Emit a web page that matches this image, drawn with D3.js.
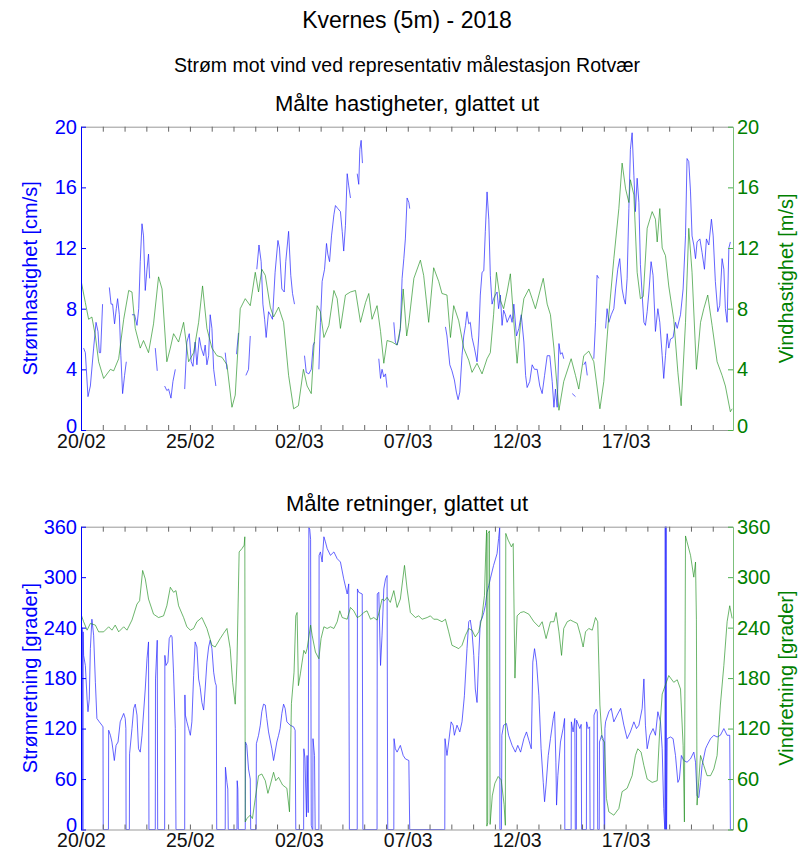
<!DOCTYPE html>
<html>
<head>
<meta charset="utf-8">
<script src="https://cdn.jsdelivr.net/npm/d3@7"></script>
<style>
  body { margin: 0; background: #fff; }
  svg { font-family: "Liberation Sans", Arial, sans-serif; }
</style>
</head>
<body>
<svg id="chart" width="800" height="855"></svg>
<script>
// time in days after 20/02/2018 00:00
// null breaks the line (no data)
var curSpeed = [
  [0.12,5.4],[0.20,5.1],[0.32,2.2],[0.43,2.9],[0.58,5.4],[0.69,7.1],[0.78,6.5],[0.84,5.1],[0.90,5.1],[0.99,8.3],[1.1,null],
  [1.30,9.4],[1.38,8.3],[1.45,8.3],[1.54,7.0],[1.62,8.0],[1.68,8.66],[1.76,7.6],[1.83,4.9],[1.91,2.4],[2.00,3.6],[2.08,4.5],[2.2,null],
  [2.34,7.6],[2.46,7.6],[2.57,6.9],[2.65,8.0],[2.72,11.1],[2.80,13.6],[2.87,12.8],[2.95,9.2],[3.03,10.6],[3.10,11.6],[3.15,10.0],[3.3,null],
  [3.41,5.4],[3.50,3.9],[3.6,null],
  [3.84,2.9],[3.94,2.6],[4.02,2.7],[4.13,2.1],[4.22,3.2],[4.33,4.0],[4.5,null],
  [4.76,2.7],[4.86,5.8],[4.97,6.35],[5.06,4.5],[5.14,4.2],[5.24,5.8],[5.32,4.3],[5.43,6.1],[5.52,5.4],[5.63,4.9],[5.70,5.6],[5.78,4.3],[5.86,4.9],[5.93,7.6],[6.01,6.7],[6.09,4.0],[6.19,2.9],[6.4,null],
  [6.62,5.1],[6.70,4.0],[6.9,null],
  [7.14,5.0],[7.23,6.4],[7.4,null],
  [7.57,3.6],[7.69,4.0],[7.77,6.2],[7.9,null],
  [8.07,10.6],[8.17,12.2],[8.27,11.1],[8.35,8.3],[8.43,7.3],[8.50,6.1],[8.61,7.8],[8.69,7.6],[8.79,7.3],[8.91,10.4],[9.04,12.5],[9.11,12.0],[9.22,9.3],[9.33,9.1],[9.40,11.1],[9.53,13.1],[9.63,10.2],[9.71,9.0],[9.80,8.3],[10.0,null],
  [10.26,4.9],[10.34,3.8],[10.46,3.7],[10.57,4.0],[10.66,5.6],[10.72,5.8],[10.8,null],
  [10.92,4.0],[10.99,7.1],[11.07,9.8],[11.18,10.6],[11.27,12.3],[11.33,11.6],[11.41,11.1],[11.50,12.8],[11.61,14.2],[11.68,14.8],[11.79,14.6],[11.91,14.4],[11.99,13.1],[12.06,11.8],[12.14,13.5],[12.22,16.9],[12.29,16.1],[12.37,15.3],[12.5,null],
  [12.68,16.9],[12.75,16.2],[12.80,18.5],[12.86,19.1],[12.92,17.6],[13.2,null],
  [13.67,4.7],[13.75,3.4],[13.82,4.0],[13.90,3.5],[13.98,3.7],[14.05,2.8],[14.2,null],
  [14.36,7.1],[14.43,5.8],[14.51,5.6],[14.59,6.0],[14.66,6.7],[14.74,10.0],[14.82,11.3],[14.89,12.6],[14.97,15.3],[15.05,15.0],[15.09,14.6],[15.3,null],
  [16.73,6.8],[16.80,6.2],[16.93,4.3],[17.03,3.9],[17.14,3.3],[17.23,2.5],[17.31,2.0],[17.39,2.5],[17.49,4.9],[17.57,6.2],[17.65,6.9],[17.72,7.8],[17.80,7.0],[17.87,7.1],[17.95,6.1],[18.06,5.4],[18.18,4.5],[18.26,6.2],[18.33,8.9],[18.41,10.4],[18.49,10.5],[18.56,13.1],[18.64,15.7],[18.72,13.9],[18.79,10.2],[18.87,8.3],[18.94,8.66],[19.02,8.9],[19.10,9.1],[19.17,8.0],[19.25,8.9],[19.33,6.9],[19.40,7.9],[19.48,7.6],[19.56,7.1],[19.71,7.6],[19.79,7.1],[19.87,8.3],[19.99,6.2],[20.10,6.7],[20.21,7.6],[20.33,5.8],[20.41,3.6],[20.48,2.8],[20.60,3.2],[20.71,4.3],[20.82,4.0],[20.94,4.0],[21.06,2.9],[21.17,2.4],[21.28,3.6],[21.40,4.9],[21.52,4.9],[21.63,3.2],[21.71,1.5],[21.78,2.7],[21.86,1.5],[21.94,5.7],[22.01,5.0],[22.09,5.1],[22.16,4.7],[22.3,null],
  [22.55,2.4],[22.70,2.2],[22.8,null],
  [23.08,4.3],[23.16,4.5],[23.24,3.6],[23.4,null],
  [23.54,4.7],[23.62,7.1],[23.69,10.2],[23.77,10.0],[23.9,null],
  [24.08,6.7],[24.15,8.0],[24.23,7.1],[24.34,7.6],[24.46,8.0],[24.54,9.3],[24.64,10.6],[24.73,11.3],[24.84,9.3],[24.92,8.66],[24.99,8.3],[25.07,10.0],[25.15,14.6],[25.22,18.5],[25.30,19.6],[25.38,16.8],[25.45,14.4],[25.53,16.6],[25.61,15.0],[25.68,10.9],[25.76,8.9],[25.84,7.1],[25.91,6.9],[25.99,7.8],[26.07,9.1],[26.17,11.1],[26.26,10.2],[26.37,6.5],[26.48,8.0],[26.57,7.1],[26.68,4.9],[26.75,3.4],[26.83,4.9],[26.91,6.35],[26.98,5.4],[27.06,6.0],[27.18,6.1],[27.29,7.1],[27.37,6.7],[27.52,7.6],[27.64,9.3],[27.75,12.8],[27.82,17.9],[27.90,17.7],[27.98,15.7],[28.05,12.8],[28.13,12.2],[28.21,11.3],[28.28,12.4],[28.41,12.6],[28.51,11.7],[28.62,10.6],[28.71,12.6],[28.82,12.2],[28.94,13.9],[29.02,12.8],[29.12,9.8],[29.23,7.8],[29.32,8.2],[29.43,11.3],[29.51,10.6],[29.58,8.0],[29.66,7.1],[29.74,12.0],[29.81,12.4]
];

var windSpeed = [
  [0.00,9.87],[0.20,8.4],[0.35,7.3],[0.50,7.45],[0.66,6.2],[0.81,4.5],[1.04,3.4],[1.35,4.0],[1.50,3.9],[1.73,4.7],[1.96,7.3],[2.19,9.2],[2.34,9.1],[2.49,6.7],[2.72,5.4],[2.87,5.9],[3.10,5.1],[3.33,7.0],[3.56,10.1],[3.72,9.3],[3.94,4.5],[4.10,5.4],[4.25,6.35],[4.48,5.8],[4.71,7.1],[4.94,4.5],[5.17,5.1],[5.40,7.1],[5.58,9.5],[5.78,6.7],[6.01,5.4],[6.24,4.9],[6.47,4.8],[6.70,4.3],[6.93,1.5],[7.08,2.3],[7.31,8.0],[7.54,8.66],[7.77,8.2],[8.00,10.4],[8.15,9.1],[8.30,10.6],[8.46,10.2],[8.69,8.1],[8.84,7.45],[9.07,8.1],[9.30,7.1],[9.53,3.6],[9.76,1.4],[9.98,1.6],[10.21,4.0],[10.38,2.9],[10.57,2.4],[10.69,5.4],[10.84,8.2],[10.99,7.8],[11.15,6.1],[11.38,6.9],[11.61,9.2],[11.76,8.66],[11.91,6.7],[12.14,8.9],[12.37,9.1],[12.60,9.2],[12.83,7.1],[13.06,8.4],[13.21,9.0],[13.36,7.3],[13.59,8.2],[13.75,6.5],[13.90,4.4],[14.05,5.9],[14.28,5.8],[14.51,5.6],[14.66,6.7],[14.79,9.3],[14.95,6.2],[15.05,7.1],[15.28,10.0],[15.58,11.2],[15.73,10.2],[15.96,7.1],[16.19,10.7],[16.42,9.8],[16.57,9.0],[16.80,8.9],[16.96,6.1],[17.11,8.2],[17.34,7.2],[17.57,5.4],[17.80,4.6],[17.95,3.8],[18.18,4.4],[18.41,3.7],[18.64,4.7],[18.79,5.1],[18.94,7.6],[19.07,10.4],[19.25,8.55],[19.40,8.0],[19.56,9.1],[19.71,10.3],[19.86,7.3],[20.02,4.4],[20.18,7.1],[20.33,8.66],[20.56,9.3],[20.71,8.66],[20.86,8.0],[21.02,8.9],[21.22,10.0],[21.40,8.3],[21.55,7.6],[21.71,5.4],[21.94,1.3],[22.16,3.2],[22.50,4.7],[22.70,3.6],[22.85,2.7],[23.08,4.9],[23.31,5.2],[23.54,4.5],[23.82,1.4],[24.00,3.2],[24.23,7.6],[24.46,11.3],[24.69,14.6],[24.84,17.6],[25.00,15.9],[25.15,15.0],[25.22,16.5],[25.38,15.5],[25.53,10.4],[25.68,8.66],[25.81,8.8],[25.99,13.3],[26.22,14.4],[26.37,13.9],[26.45,12.4],[26.57,14.6],[26.68,12.0],[26.83,11.5],[26.98,9.5],[27.21,7.3],[27.40,3.8],[27.55,1.6],[27.75,7.1],[27.90,13.3],[28.05,10.4],[28.25,4.0],[28.44,7.1],[28.59,8.0],[28.77,8.9],[28.97,6.9],[29.20,4.5],[29.43,3.6],[29.58,2.9],[29.81,1.2],[29.89,1.4]
];

var curDir = [
  [0.00,243],[0.07,238],[0.08,0],[0.09,0],[0.10,235],[0.12,207],[0.20,195],[0.28,155],[0.32,140],[0.38,155],[0.43,215],[0.50,250],[0.58,231],[0.66,175],[0.73,132],[0.84,128],[0.96,124],[1.01,122],[1.02,0],[1.26,0],[1.27,118],[1.35,112],[1.42,104],[1.53,82],[1.61,100],[1.70,104],[1.80,128],[1.96,138],[2.03,132],[2.06,120],[2.07,0],[2.22,0],[2.23,90],[2.34,120],[2.42,144],[2.49,149],[2.57,136],[2.64,96],[2.72,92],[2.80,112],[2.95,167],[3.03,203],[3.10,223],[3.12,0],[3.41,0],[3.42,179],[3.50,225],[3.52,0],[3.84,0],[3.85,207],[3.90,195],[3.99,199],[4.05,227],[4.13,231],[4.18,229],[4.25,185],[4.33,120],[4.36,0],[4.76,0],[4.77,160],[4.79,136],[4.86,128],[4.94,120],[5.02,112],[5.09,128],[5.17,183],[5.24,223],[5.32,217],[5.40,179],[5.47,169],[5.55,151],[5.63,142],[5.70,167],[5.78,199],[5.86,217],[5.93,225],[6.01,215],[6.09,187],[6.16,175],[6.21,171],[6.23,0],[6.62,0],[6.63,74],[6.70,56],[6.74,48],[6.76,0],[7.16,0],[7.17,58],[7.20,48],[7.22,0],[7.54,0],[7.55,104],[7.61,100],[7.69,72],[7.77,60],[7.79,0],[8.04,0],[8.05,102],[8.15,112],[8.23,124],[8.30,140],[8.38,149],[8.46,148],[8.53,132],[8.61,116],[8.76,96],[8.84,82],[8.91,92],[8.99,104],[9.07,112],[9.14,120],[9.22,138],[9.30,149],[9.37,144],[9.45,128],[9.60,124],[9.76,122],[9.83,118],[9.86,0],
  [10.22,0],[10.23,96],[10.28,85],[10.35,15],[10.38,88],[10.43,20],[10.46,359],[10.50,357],[10.54,345],[10.57,5],[10.62,0],[10.64,0],[10.65,108],[10.72,88],[10.75,0],[10.92,0],[10.93,326],[10.99,330],[11.07,318],[11.15,348],[11.22,342],[11.30,334],[11.45,326],[11.61,330],[11.76,322],[11.91,318],[12.06,298],[12.22,280],[12.29,292],[12.32,0],[12.68,0],[12.69,286],[12.75,282],[12.91,280],[12.94,0],[13.59,0],[13.60,280],[13.67,282],[13.75,195],[13.82,231],[13.90,286],[13.98,298],[14.05,302],[14.08,0],[14.36,0],[14.37,108],[14.43,96],[14.51,92],[14.66,100],[14.79,88],[14.89,84],[15.05,82],[15.09,0],[16.70,0],[16.71,108],[16.80,88],[16.88,104],[16.99,128],[17.08,124],[17.14,112],[17.26,124],[17.39,116],[17.49,128],[17.60,159],[17.72,215],[17.80,247],[17.87,249],[17.95,235],[18.03,207],[18.10,167],[18.18,151],[18.26,207],[18.33,247],[18.41,251],[18.49,258],[18.56,266],[18.64,282],[18.72,290],[18.79,298],[18.94,314],[19.10,328],[19.17,346],[19.22,359],[19.23,0],[19.30,0],[19.32,112],[19.40,124],[19.53,126],[19.63,112],[19.79,100],[19.94,92],
  [20.05,100],[20.18,92],[20.33,108],[20.45,116],[20.56,106],[20.67,96],[20.74,199],[20.82,215],[20.91,199],[21.02,159],[21.12,96],[21.22,56],[21.28,33],[21.35,53],[21.45,88],[21.55,108],[21.68,132],[21.74,140],[21.80,80],[21.83,29],[21.89,64],[22.01,104],[22.13,120],[22.20,132],[22.21,0],[22.50,0],[22.51,128],[22.59,116],[22.67,132],[22.69,0],[22.74,0],[22.75,130],[22.90,120],[22.96,125],[22.98,0],[23.20,0],[23.21,128],[23.28,120],[23.35,122],[23.37,0],[23.54,0],[23.55,136],[23.65,143],[23.70,140],[23.72,0],[23.79,0],[23.80,104],[23.90,112],[23.97,108],[24.02,0],[24.04,0],[24.05,120],[24.08,128],[24.23,140],[24.34,144],[24.46,128],[24.61,136],[24.77,144],[24.92,124],[25.07,108],[25.22,116],[25.38,128],[25.50,120],[25.61,124],[25.76,144],[25.84,179],[25.91,124],[25.99,96],[26.11,112],[26.26,120],[26.37,112],[26.48,140],[26.60,128],[26.68,96],[26.75,25],[26.80,0],[26.82,360],[26.84,0],[26.86,360],[26.88,0],[26.91,108],[27.06,110],[27.18,108],[27.29,88],[27.40,56],[27.47,60],[27.56,88],[27.67,82],[27.82,80],[27.98,84],[28.13,92],[28.21,80],[28.28,40],[28.36,38],[28.44,56],[28.51,76],[28.59,86],[28.67,96],[28.74,100],[28.90,108],[29.05,112],[29.20,110],[29.35,112],[29.51,120],[29.66,112],[29.78,112],[29.81,0],[29.93,0]
];

var windDir = [
  [0.00,256],[0.12,247],[0.28,237],[0.43,245],[0.66,243],[0.81,235],[1.04,235],[1.27,241],[1.42,237],[1.57,243],[1.73,235],[1.96,241],[2.11,237],[2.34,249],[2.57,268],[2.69,272],[2.83,308],[2.95,298],[3.10,274],[3.33,256],[3.56,252],[3.79,254],[3.94,266],[4.10,288],[4.25,282],[4.36,284],[4.48,266],[4.71,252],[4.86,241],[5.02,237],[5.17,239],[5.32,247],[5.55,252],[5.78,239],[6.01,219],[6.16,217],[6.39,227],[6.54,233],[6.70,239],[6.85,215],[6.96,175],[7.08,149],[7.16,199],[7.26,330],[7.39,334],[7.49,338],[7.52,348],[7.54,9],[7.61,13],[7.77,17],[7.87,13],[8.00,37],[8.15,64],[8.30,66],[8.46,58],[8.58,43],[8.69,53],[8.84,68],[8.94,58],[9.07,62],[9.25,53],[9.45,49],[9.57,21],[9.66,150],[9.78,187],[9.86,254],[9.92,258],[9.98,171],[10.07,185],[10.15,199],[10.23,213],[10.31,209],[10.38,215],[10.54,243],[10.61,231],[10.76,211],[10.92,203],[11.02,227],[11.15,241],[11.30,239],[11.45,241],[11.61,239],[11.76,247],[11.88,260],[11.99,252],[12.22,250],[12.37,264],[12.52,260],[12.68,252],[12.83,254],[12.98,258],[13.13,260],[13.29,250],[13.44,252],[13.59,249],[13.72,262],[13.82,274],[13.93,272],[14.05,276],[14.20,270],[14.36,284],[14.51,264],[14.66,274],[14.85,314],[14.97,286],[15.12,258],[15.35,252],[15.50,254],[15.66,250],[15.89,252],[16.04,254],[16.19,250],[16.35,250],[16.57,247],[16.73,250],[16.88,235],[17.03,219],[17.19,217],[17.34,215],[17.49,219],[17.65,231],[17.80,239],[17.95,237],[18.10,229],[18.26,235],[18.33,243],[18.41,254],[18.52,278],[18.58,330],[18.62,356],[18.63,4],[18.67,8],[18.68,352],[18.75,355],[18.78,6],[18.88,40],[19.00,55],[19.15,63],[19.29,59],[19.42,30],[19.48,5],[19.50,352],[19.61,344],[19.76,336],[19.84,340],[19.92,180],[20.02,254],[20.18,258],[20.33,259],[20.56,256],[20.79,247],[21.02,241],[21.17,247],[21.35,227],[21.55,247],[21.71,247],[21.81,258],[21.94,235],[22.06,207],[22.16,239],[22.32,247],[22.47,249],[22.62,247],[22.78,245],[22.93,231],[23.05,217],[23.16,235],[23.31,239],[23.47,237],[23.62,252],[23.72,247],[23.82,148],[23.92,108],[24.03,104],[24.12,37],[24.23,21],[24.46,17],[24.69,25],[24.84,45],[25.07,49],[25.30,64],[25.45,88],[25.56,96],[25.71,92],[25.84,76],[25.99,60],[26.22,56],[26.45,58],[26.57,120],[26.68,161],[26.98,183],[27.21,175],[27.37,178],[27.52,167],[27.64,100],[27.70,9],[27.75,349],[27.82,342],[27.98,326],[28.13,300],[28.21,318],[28.25,250],[28.28,29],[28.44,88],[28.59,76],[28.74,64],[28.90,64],[29.05,72],[29.20,88],[29.35,148],[29.51,195],[29.66,247],[29.78,266],[29.89,251]
];

var speedTicks = [0, 4, 8, 12, 16, 20];
var dirTicks = [0, 60, 120, 180, 240, 300, 360];

var startDate = new Date(2018, 1, 20);
var endDay = 29.93;
function dayToDate(d) { return new Date(startDate.getTime() + d * 864e5); }

var svg = d3.select("#chart");
var left = 81, right = 733;
var blue = "#0000ff", green = "#008000";
var font = "Liberation Sans, Arial, sans-serif";

var x = d3.scaleTime()
    .domain([startDate, dayToDate(endDay)])
    .range([left, right]);

// titles
svg.append("text").attr("x", 407).attr("y", 28).attr("text-anchor", "middle")
    .attr("font-size", 23).text("Kvernes (5m) - 2018");
svg.append("text").attr("x", 407).attr("y", 72).attr("text-anchor", "middle")
    .attr("font-size", 19.5).text("Strøm mot vind ved representativ målestasjon Rotvær");

function drawPanel(p) {
    var yL = d3.scaleLinear().domain(p.domain).range([p.bottom, p.top]);
    var g = svg.append("g");

    svg.append("text").attr("x", 407).attr("y", p.top - 16).attr("text-anchor", "middle")
        .attr("font-size", 22).text(p.title);

    var clipId = "clip" + p.id;
    svg.append("clipPath").attr("id", clipId).append("rect")
        .attr("x", left).attr("y", p.top - 1).attr("width", right - left).attr("height", p.bottom - p.top + 2);

    var line = d3.line()
        .defined(function(d) { return d[1] != null; })
        .x(function(d) { return x(dayToDate(d[0])); })
        .y(function(d) { return yL(d[1]); });

    g.append("path").datum(p.blueData)
        .attr("clip-path", "url(#" + clipId + ")")
        .attr("fill", "none").attr("stroke", "#2a2aff").attr("stroke-opacity", 0.72)
        .attr("stroke-width", 1).attr("d", line);
    g.append("path").datum(p.greenData)
        .attr("clip-path", "url(#" + clipId + ")")
        .attr("fill", "none").attr("stroke", "#1e8f1e").attr("stroke-opacity", 0.65)
        .attr("stroke-width", 1).attr("d", line);

    // frame top / bottom with day ticks
    var days = d3.timeDay.range(startDate, dayToDate(endDay));
    var xb = svg.append("g").attr("transform", "translate(0," + p.bottom + ")")
        .call(d3.axisBottom(x).tickValues(days).tickSizeInner(-5).tickSizeOuter(0).tickPadding(4)
            .tickFormat(function(d, i) { return i % 5 === 0 ? d3.timeFormat("%d/%m")(d) : ""; }));
    xb.select(".domain").attr("stroke", "#999");
    xb.selectAll(".tick line").attr("stroke", "#666");
    xb.selectAll(".tick text").attr("font-size", 19.5).attr("fill", "#111").attr("font-family", font);

    var xt = svg.append("g").attr("transform", "translate(0," + p.top + ")")
        .call(d3.axisTop(x).tickValues(days).tickSizeInner(-5).tickSizeOuter(0).tickFormat(""));
    xt.select(".domain").attr("stroke", "#999");
    xt.selectAll(".tick line").attr("stroke", "#666");

    var ya = svg.append("g").attr("transform", "translate(" + left + ",0)")
        .call(d3.axisLeft(yL).tickValues(p.ticks).tickSizeInner(-5).tickSizeOuter(0).tickPadding(4));
    ya.select(".domain").attr("stroke", blue);
    ya.selectAll(".tick line").attr("stroke", blue);
    ya.selectAll(".tick text").attr("fill", blue).attr("font-size", 20).attr("font-family", font);
    ya.selectAll(".tick text").filter(function(d) { return d === 0; }).attr("dy", "0.12em");

    var yb = svg.append("g").attr("transform", "translate(" + right + ",0)")
        .call(d3.axisRight(yL).tickValues(p.ticks).tickSizeInner(-5).tickSizeOuter(0).tickPadding(4));
    yb.select(".domain").attr("stroke", "#7cc07c");
    yb.selectAll(".tick line").attr("stroke", "#4caf4c");
    yb.selectAll(".tick text").attr("fill", green).attr("font-size", 20).attr("font-family", font);
    yb.selectAll(".tick text").filter(function(d) { return d === 0; }).attr("dy", "0.12em");

    var mid = (p.top + p.bottom) / 2;
    svg.append("text").attr("transform", "translate(30," + mid + ") rotate(-90)")
        .attr("text-anchor", "middle").attr("dy", "0.35em").attr("font-size", 20).attr("fill", blue).text(p.leftLabel);
    svg.append("text").attr("transform", "translate(786," + mid + ") rotate(-90)")
        .attr("text-anchor", "middle").attr("dy", "0.35em").attr("font-size", 20).attr("fill", green).text(p.rightLabel);
}

drawPanel({ id: 1, top: 126.7, bottom: 430, domain: [0, 20], ticks: speedTicks,
    blueData: curSpeed, greenData: windSpeed, title: "Målte hastigheter, glattet ut",
    leftLabel: "Strømhastighet [cm/s]", rightLabel: "Vindhastighet [m/s]" });
drawPanel({ id: 2, top: 526.7, bottom: 829.5, domain: [0, 360], ticks: dirTicks,
    blueData: curDir, greenData: windDir, title: "Målte retninger, glattet ut",
    leftLabel: "Strømretning [grader]", rightLabel: "Vindretning [grader]" });
</script>
</body>
</html>
